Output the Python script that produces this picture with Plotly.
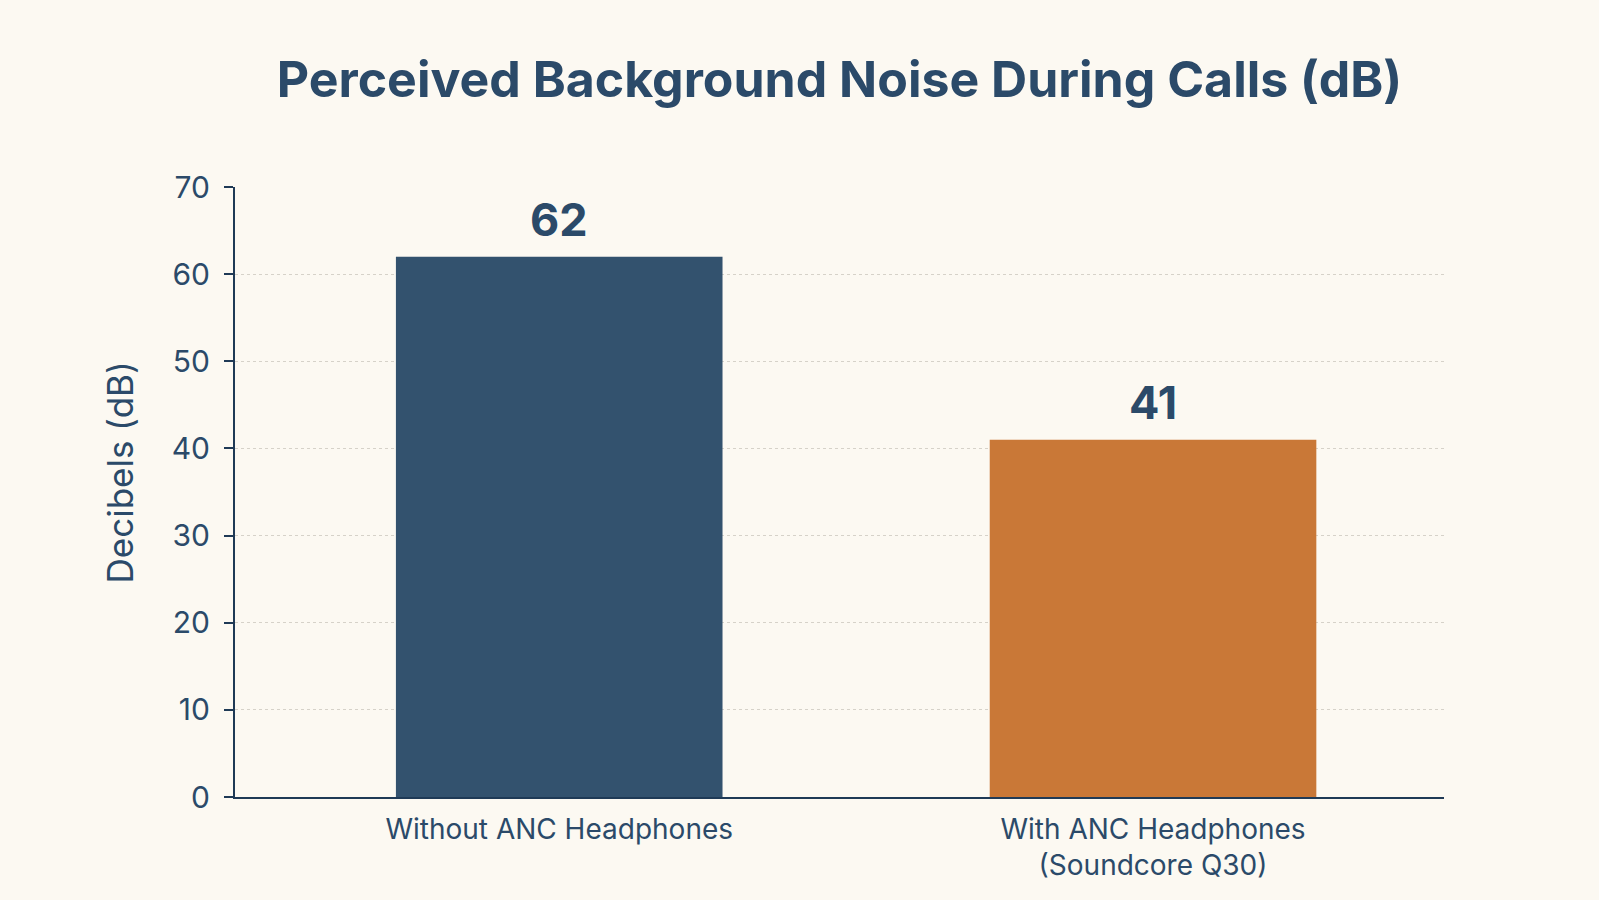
import plotly.graph_objs as go

categories = ['Without ANC Headphones', 'With ANC Headphones<br>(Soundcore Q30)']
noise_db = [62, 41]
bar_colors = ['#33526e', '#c97837']
y_ticks = [0, 10, 20, 30, 40, 50, 60, 70]

NAVY = '#2b4a69'
AXIS = '#1f3a56'
BG = '#fcf9f2'


def main():
    fig = go.Figure()
    fig.add_bar(x=categories,
                y=noise_db,
                width=0.55,
                marker={'color': bar_colors,
                        'line': {'width': 0},
                        },
                hoverinfo='skip',
                showlegend=False)

    # value labels above bars
    for cat, val in zip(categories, noise_db):
        fig.add_annotation(x=cat, y=val, text='<b>{}</b>'.format(val),
                           showarrow=False, yanchor='bottom', yshift=8,
                           font={'family': 'Inter', 'size': 45,
                                 'color': NAVY})

    # y axis title, sits a bit above the plot middle
    fig.add_annotation(x=0, y=0.532, xref='paper', yref='paper',
                       text='Decibels (dB)', textangle=-90,
                       showarrow=False, xanchor='center', yanchor='middle',
                       xshift=-115,
                       font={'family': 'Inter', 'size': 35, 'color': NAVY})

    fig.update_layout(
        width=1599, height=900,
        paper_bgcolor=BG,
        plot_bgcolor=BG,
        margin={'l': 235, 'r': 155, 't': 187, 'b': 103},
        font={'family': 'Inter', 'color': NAVY},
        title={'text': '<b>Perceived Background Noise During Calls (dB)</b>',
               'font': {'size': 50, 'color': NAVY, 'family': 'Inter'},
               'x': 0.525, 'xanchor': 'center',
               'y': 0.912, 'yanchor': 'middle'},
    )
    fig.update_xaxes(type='category',
                     range=[-0.546, 1.49],
                     showline=True, linecolor=AXIS, linewidth=2,
                     ticks='', showgrid=False, ticklabelstandoff=6,
                     tickfont={'size': 28, 'color': NAVY})
    fig.update_yaxes(range=[0, 70],
                     tickvals=y_ticks,
                     showline=True, linecolor=AXIS, linewidth=2,
                     ticks='outside', ticklen=9, tickcolor=AXIS, tickwidth=2,
                     ticklabelstandoff=8,
                     showgrid=True, gridcolor='#d6d2c9', griddash='dot',
                     gridwidth=1, zeroline=False,
                     tickfont={'size': 30, 'color': NAVY})
    fig.write_html('out.html',
                   config={'displayModeBar': False},
                   post_script="document.body.style.margin='0';"
                               "document.body.style.background='" + BG + "';")


if __name__ == "__main__":
    main()
